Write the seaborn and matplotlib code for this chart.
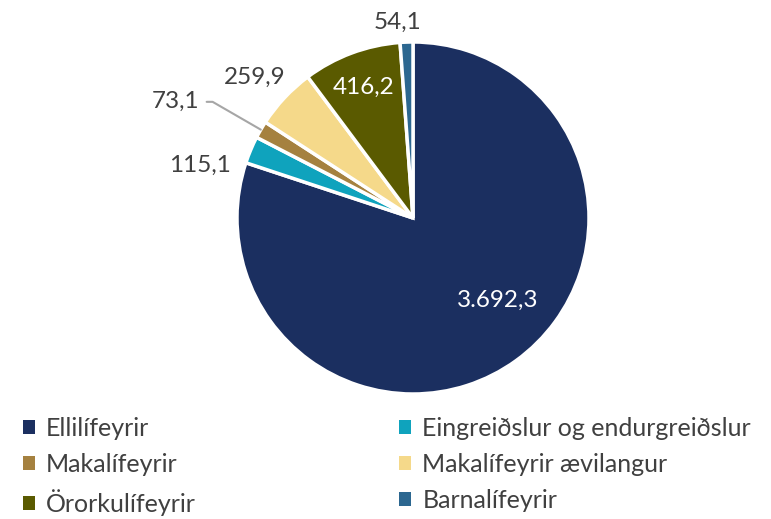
import numpy as np
import seaborn as sns
import matplotlib.pyplot as plt
from matplotlib.patches import Patch

categories = ['Ellilífeyrir', 'Eingreiðslur og endurgreiðslur', 'Makalífeyrir',
              'Makalífeyrir ævilangur', 'Örorkulífeyrir', 'Barnalífeyrir']
values = [3692.3, 115.1, 73.1, 259.9, 416.2, 54.1]
value_labels = ['3.692,3', '115,1', '73,1', '259,9', '416,2', '54,1']
colors = sns.color_palette(['#1b2f60', '#0fa3bd', '#a5813f', '#f5d98a', '#5a5a00', '#2c6790'])

sns.set_theme(style='white')
plt.rcParams['font.family'] = ['Lato', 'DejaVu Sans']

W, H = 771, 519
fig = plt.figure(figsize=(W / 100, H / 100), dpi=100)

# pie centre (px from left/top) and radius in px
cx, cy, r = 413, 218, 176
lim = 1.1
half = r * lim
ax = fig.add_axes([(cx - half) / W, (H - cy - half) / H, 2 * half / W, 2 * half / H])

wedges, _ = ax.pie(values, colors=colors, startangle=90, counterclock=False,
                   wedgeprops=dict(edgecolor='white', linewidth=2.5))
ax.set_xlim(-lim, lim)
ax.set_ylim(-lim, lim)
ax.set_aspect('auto')
ax.axis('off')

# label positions (pie radius = 1), text colours
label_pos = [(0.48, -0.47), (-1.21, 0.30), (-1.35, 0.66), (-0.90, 0.80), (-0.28, 0.74), (-0.09, 1.11)]
label_col = ['white', '#404040', '#404040', '#404040', 'white', '#404040']

for i, (w, lab) in enumerate(zip(wedges, value_labels)):
    x, y = label_pos[i]
    if lab == '73,1':
        ang = np.deg2rad((w.theta1 + w.theta2) / 2)
        ax.annotate(lab, xy=(np.cos(ang), np.sin(ang)), xytext=(x, y),
                    ha='center', va='center', fontsize=17.5, color=label_col[i],
                    arrowprops=dict(arrowstyle='-', color='#a6a6a6', lw=1.5,
                                    shrinkA=3, shrinkB=0,
                                    connectionstyle='angle,angleA=0,angleB=-30,rad=0',
                                    relpos=(1.0, 0.5)),
                    annotation_clip=False)
    else:
        ax.text(x, y, lab, ha='center', va='center', fontsize=17.5, color=label_col[i])

order = [0, 2, 4, 1, 3, 5]
handles = [Patch(facecolor=colors[i], edgecolor='none') for i in order]
labels = [categories[i] for i in order]
fig.legend(handles, labels, ncol=2, loc='upper left', bbox_to_anchor=(0.0, 0.24),
           frameon=False, fontsize=18, handlelength=0.5, handleheight=0.5,
           handletextpad=0.45, columnspacing=8.1, labelspacing=0.52,
           labelcolor='#404040')

fig.savefig('out.png', dpi=100)
